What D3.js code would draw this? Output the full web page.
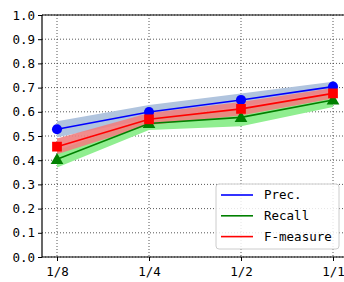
<!DOCTYPE html>
<html><head><meta charset="utf-8">
<script src="https://cdn.jsdelivr.net/npm/d3@7"></script>
<style>body{margin:0;background:#fff}svg{display:block}</style>
</head><body>
<script>
const categories = ["1/8","1/4","1/2","1/1"];
const precMean = [0.528, 0.599, 0.649, 0.704];
const precLo   = [0.495, 0.570, 0.622, 0.683];
const precHi   = [0.561, 0.628, 0.676, 0.724];
const recMean  = [0.404, 0.552, 0.577, 0.649];
const recLo    = [0.370, 0.525, 0.540, 0.620];
const recHi    = [0.440, 0.578, 0.610, 0.675];
const fMean    = [0.456, 0.569, 0.612, 0.676];
const fLo      = [0.425, 0.545, 0.585, 0.655];
const fHi      = [0.490, 0.595, 0.640, 0.698];
const yTicks = [0,0.1,0.2,0.3,0.4,0.5,0.6,0.7,0.8,0.9,1.0];
const seriesNames = ["Prec.","Recall","F-measure"];

const W=344,H=282;
const svg=d3.select("body").append("svg").attr("width",W).attr("height",H);
const x=d3.scaleLinear().domain([0,3]).range([57,333]);
const y=d3.scaleLinear().domain([0,1]).range([257,15]);
const font="'DejaVu Sans Mono', monospace";

// grid
const g=svg.append("g");
g.selectAll(".gy").data(yTicks).join("line")
 .attr("x1",42).attr("x2",W+10).attr("y1",d=>y(d)).attr("y2",d=>y(d))
 .attr("stroke","#444").attr("stroke-width",0.9).attr("stroke-dasharray","1,2");
g.selectAll(".gx").data(categories).join("line")
 .attr("x1",(d,i)=>x(i)).attr("x2",(d,i)=>x(i)).attr("y1",15).attr("y2",257)
 .attr("stroke","#444").attr("stroke-width",0.9).attr("stroke-dasharray","1,2");

const area=(lo,hi)=>d3.area().x((d,i)=>x(i)).y0((d,i)=>y(lo[i])).y1((d,i)=>y(hi[i]))(categories);
svg.append("path").attr("d",area(precLo,precHi)).attr("fill","#b0c4de");
svg.append("path").attr("d",area(recLo,recHi)).attr("fill","#90ee90");
svg.append("path").attr("d",area(fLo,fHi)).attr("fill","#f08080").attr("opacity",0.9);

const line=d3.line().x((d,i)=>x(i)).y(d=>y(d));
const series=[{v:precMean,c:"blue",m:"circle"},{v:recMean,c:"green",m:"tri"},{v:fMean,c:"red",m:"sq"}];
series.forEach(s=>{
  svg.append("path").attr("d",line(s.v)).attr("fill","none").attr("stroke",s.c).attr("stroke-width",1.6);
});
series.forEach(s=>{
  const sym = s.m==="circle"?d3.symbolCircle:(s.m==="tri"?d3.symbolTriangle:d3.symbolSquare);
  const size = s.m==="circle"?80:(s.m==="tri"?70:95);
  svg.selectAll(null).data(s.v).join("path")
   .attr("d",d3.symbol().type(sym).size(size))
   .attr("transform",(d,i)=>`translate(${x(i)},${y(d)+(s.m==="tri"?1:0)})`)
   .attr("fill",s.c);
});

// axes
const ya=svg.append("g").attr("transform","translate(42,0)")
 .call(d3.axisLeft(y).tickValues(yTicks).tickFormat(d3.format(".1f")).tickSize(4).tickPadding(3));
const xa=svg.append("g").attr("transform","translate(0,257)")
 .call(d3.axisBottom(x).tickValues([0,1,2,3]).tickFormat(i=>categories[i]).tickSize(4).tickPadding(4));
[ya,xa].forEach(a=>{
  a.select(".domain").remove();
  a.selectAll("text").attr("font-family",font).attr("font-size",12.5).attr("fill","#000");
  a.selectAll("line").attr("stroke","#000");
});
xa.selectAll("text").attr("dy","0.9em");
svg.append("line").attr("x1",42).attr("x2",42).attr("y1",15).attr("y2",257).attr("stroke","#000").attr("stroke-width",1.2);
svg.append("line").attr("x1",42).attr("x2",W).attr("y1",257).attr("y2",257).attr("stroke","#000").attr("stroke-width",1.2);
svg.append("line").attr("x1",42).attr("x2",W).attr("y1",15).attr("y2",15).attr("stroke","#000").attr("stroke-width",1.2);

// legend
const lg=svg.append("g");
lg.append("rect").attr("x",216).attr("y",184).attr("width",123).attr("height",65).attr("rx",3)
 .attr("fill","rgba(255,255,255,0.85)").attr("stroke","#ccc");
seriesNames.forEach((n,i)=>{
  const yy=195+i*20.8;
  lg.append("line").attr("x1",221).attr("x2",253).attr("y1",yy).attr("y2",yy).attr("stroke",series[i].c).attr("stroke-width",1.6);
  lg.append("text").attr("x",264).attr("y",yy).attr("dy","0.35em").attr("font-family",font).attr("font-size",12.5).text(n);
});
</script>
</body></html>
